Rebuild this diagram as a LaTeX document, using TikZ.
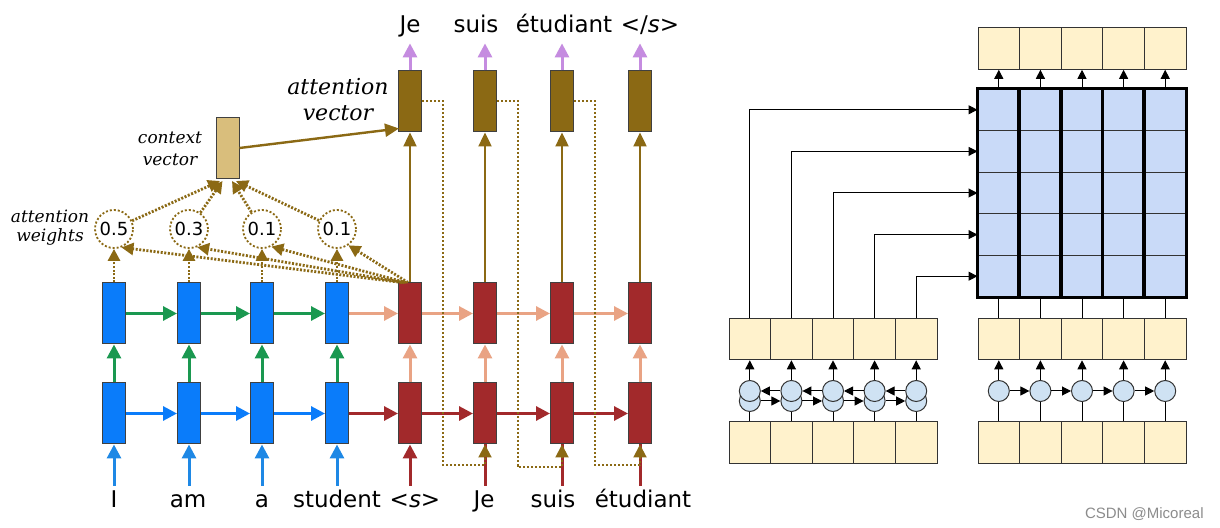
\documentclass[tikz,border=0pt]{standalone}
\usepackage{fontspec}
\setmainfont{DejaVu Sans}
\newfontfamily\labelfont{DejaVu Serif}
\newfontfamily\markfont{Liberation Sans}
\usepackage{tikz}
\usetikzlibrary{arrows.meta}
\definecolor{encblue}{HTML}{0A7CFA}
\definecolor{inblue}{HTML}{1E88E5}
\definecolor{encgreen}{HTML}{1A9850}
\definecolor{decred}{HTML}{A2292B}
\definecolor{salmon}{HTML}{E9A384}
\definecolor{attbrown}{HTML}{8B6914}
\definecolor{ctxtan}{HTML}{D9BE7C}
\definecolor{outpurple}{HTML}{C58CE0}
\definecolor{cellyellow}{HTML}{FFF2CC}
\definecolor{gridblue}{HTML}{C9DAF8}
\definecolor{unitblue}{HTML}{CFE2F3}

\begin{document}
\begin{tikzpicture}[x=0.5pt,y=-0.5pt,
rnn/.style={draw=black!75,line width=0.5pt,minimum width=11.5pt,minimum height=30.5pt,inner sep=0},
enc/.style={rnn,fill=encblue},
dec/.style={rnn,fill=decred},
attv/.style={rnn,fill=attbrown},
ctxv/.style={rnn,fill=ctxtan},
weight/.style={circle,draw=attbrown,line width=0.9pt,dash pattern=on 1pt off 1pt,minimum size=19pt,inner sep=0,font=\fontsize{9}{10}\selectfont},
word/.style={anchor=base,text height=8pt,text depth=2pt,inner xsep=0,inner ysep=3pt,font=\fontsize{11.5}{13}\selectfont},
tag/.style={align=center,inner sep=0},
fat/.style={-{Triangle[length=7pt,width=7pt]},line width=1.5pt},
inarrow/.style={fat,draw=inblue},
bluearrow/.style={fat,draw=encblue},
greenarrow/.style={fat,draw=encgreen},
redarrow/.style={fat,draw=decred},
redline/.style={line width=1.5pt,draw=decred},
salarrow/.style={fat,draw=salmon},
outarrow/.style={fat,draw=outpurple},
brownarrow/.style={-{Triangle[length=7pt,width=6.5pt]},line width=1.2pt,draw=attbrown},
attarrow/.style={-{Triangle[length=6pt,width=6pt]},line width=1.4pt,draw=attbrown,dash pattern=on 1pt off 0.8pt},
fbarrow/.style={-{Triangle[length=6.5pt,width=6.5pt]},line width=1pt,draw=attbrown,dash pattern=on 1pt off 1pt},
cell/.style={draw=black!80,line width=0.5pt,fill=cellyellow,minimum size=20.8pt,inner sep=0},
gcell/.style={cell,fill=gridblue},
unit/.style={circle,draw=black!80,line width=0.5pt,fill=unitblue,minimum size=10.5pt,inner sep=0},
thin/.style={-{Triangle[length=4.5pt,width=4.5pt]},line width=0.5pt},
heavy/.style={line width=1.8pt,line cap=rect}]
\path[use as bounding box,fill=white] (0,0) rectangle (1220,528);

% seq2seq with attention
\node[enc] (e1b) at (114,413.5) {}; \node[enc] (e2b) at (189,413.5) {};
\node[enc] (e3b) at (262,413.5) {}; \node[enc] (e4b) at (337,413.5) {};
\node[enc] (e1t) at (114,313.5) {}; \node[enc] (e2t) at (189,313.5) {};
\node[enc] (e3t) at (262,313.5) {}; \node[enc] (e4t) at (337,313.5) {};
\node[dec] (d1b) at (410,413.5) {}; \node[dec] (d2b) at (485,413.5) {};
\node[dec] (d3b) at (562,413.5) {}; \node[dec] (d4b) at (640,413.5) {};
\node[dec] (d1t) at (410,313.5) {}; \node[dec] (d2t) at (485,313.5) {};
\node[dec] (d3t) at (562,313.5) {}; \node[dec] (d4t) at (640,313.5) {};
\node[attv] (a1) at (410,101.5) {}; \node[attv] (a2) at (485,101.5) {};
\node[attv] (a3) at (562,101.5) {}; \node[attv] (a4) at (640,101.5) {};
\node[ctxv] (ctx) at (227.5,148) {};
\node[weight] (w1) at (114,229) {0.5}; \node[weight] (w2) at (189,229) {0.3};
\node[weight] (w3) at (262,229) {0.1}; \node[weight] (w4) at (337,229) {0.1};

\node[word] (x1) at (114,508) {I}; \node[word] (x2) at (188,508) {am};
\node[word] (x3) at (262,508) {a}; \node[word] (x4) at (337,508) {student};
\node[word] (x5) at (415,508) {<\textit{s}>}; \node[word] (x6) at (484,508) {Je};
\node[word] (x7) at (553,508) {suis}; \node[word] (x8) at (643,508) {étudiant};
\node[word] (y1) at (410,33) {Je}; \node[word] (y2) at (476,33) {suis};
\node[word] (y3) at (564,33) {étudiant}; \node[word] (y4) at (650,33) {</\textit{s}>};

\node[tag,font=\labelfont\itshape\fontsize{11}{13}\selectfont] (attlbl) at (338,100) {attention\\vector};
\node[tag,font=\labelfont\itshape\fontsize{8.5}{11}\selectfont] (ctxlbl) at (170,149) {context\\vector};
\node[tag,font=\labelfont\itshape\fontsize{8.5}{9.5}\selectfont] (wlbl) at (50,228) {attention\\weights};

\draw[inarrow] (e1b.south |- x1.north) -- (e1b.south); \draw[inarrow] (e2b.south |- x2.north) -- (e2b.south);
\draw[inarrow] (e3b.south |- x3.north) -- (e3b.south); \draw[inarrow] (e4b.south |- x4.north) -- (e4b.south);
\draw[bluearrow] (e1b) -- (e2b); \draw[bluearrow] (e2b) -- (e3b); \draw[bluearrow] (e3b) -- (e4b);
\draw[greenarrow] (e1b) -- (e1t); \draw[greenarrow] (e2b) -- (e2t);
\draw[greenarrow] (e3b) -- (e3t); \draw[greenarrow] (e4b) -- (e4t);
\draw[greenarrow] (e1t) -- (e2t); \draw[greenarrow] (e2t) -- (e3t); \draw[greenarrow] (e3t) -- (e4t);
\draw[redarrow] (e4b) -- (d1b); \draw[redarrow] (d1b) -- (d2b); \draw[redarrow] (d2b) -- (d3b); \draw[redarrow] (d3b) -- (d4b);
\draw[salarrow] (e4t) -- (d1t); \draw[salarrow] (d1t) -- (d2t); \draw[salarrow] (d2t) -- (d3t); \draw[salarrow] (d3t) -- (d4t);
\draw[salarrow] (d1b) -- (d1t); \draw[salarrow] (d2b) -- (d2t); \draw[salarrow] (d3b) -- (d3t); \draw[salarrow] (d4b) -- (d4t);
\draw[redarrow] (d1b.south |- x5.north) -- (d1b.south); \draw[redline] (d2b.south |- x6.north) -- (d2b.south);
\draw[redline] (d3b.south |- x7.north) -- (d3b.south); \draw[redline] (d4b.south |- x8.north) -- (d4b.south);
\draw[brownarrow] (d1t) -- (a1); \draw[brownarrow] (d2t) -- (a2); \draw[brownarrow] (d3t) -- (a3); \draw[brownarrow] (d4t) -- (a4);
\draw[outarrow] (a1.north) -- (a1.north |- y1.south); \draw[outarrow] (a2.north) -- (a2.north |- y2.south);
\draw[outarrow] (a3.north) -- (a3.north |- y3.south); \draw[outarrow] (a4.north) -- (a4.north |- y4.south);
% attention
\draw[attarrow] (e1t) -- (w1); \draw[attarrow] (e2t) -- (w2); \draw[attarrow] (e3t) -- (w3); \draw[attarrow] (e4t) -- (w4);
\draw[attarrow] ([xshift=-4pt]d1t.north) -- (w1.-68); \draw[attarrow] ([xshift=-3pt]d1t.north) -- (w2.-66);
\draw[attarrow] ([xshift=-2pt]d1t.north) -- (w3.-62); \draw[attarrow] ([xshift=-1pt]d1t.north) -- (w4.-55);
\draw[attarrow] (w1) -- ([xshift=-3.75pt,yshift=-1pt]ctx.south); \draw[attarrow] (w2) -- ([xshift=-2.5pt,yshift=-1pt]ctx.south);
\draw[attarrow] (w3) -- ([xshift=2.25pt,yshift=-1pt]ctx.south); \draw[attarrow] (w4) -- ([xshift=4.25pt,yshift=-1pt]ctx.south);
\draw[brownarrow] (ctx.east) -- ([xshift=0.5pt,yshift=2pt]a1.south west);
% feedback of the outputs
\draw[fbarrow] (a1.east) -- ++(21,0) |- ([yshift=-10.5pt]d2b.south) -- (d2b.south);
\draw[fbarrow] (a2.east) -- ++(21,0) |- ([yshift=-11.5pt]d3b.south) -- (d3b.south);
\draw[fbarrow] (a3.east) -- ++(21,0) |- ([yshift=-10.5pt]d4b.south) -- (d4b.south);

% self-attention vs. bidirectional rnn
\foreach \i in {0,...,4} {
  \node[cell] (o\i) at ({998.8+\i*41.6},48.5) {};
  \node[cell] (lt\i) at ({749.8+\i*41.6},339) {};
  \node[cell] (lb\i) at ({749.8+\i*41.6},442.5) {};
  \node[cell] (rt\i) at ({998.8+\i*41.6},339) {};
  \node[cell] (rb\i) at ({998.8+\i*41.6},442.5) {};
  \node[unit] (lo\i) at ({749.8+\i*41.6},401) {};
  \node[unit] (up\i) at ({749.8+\i*41.6},391) {};
  \node[unit] (rc\i) at ({998.8+\i*41.6},391) {};
  \foreach \j in {0,...,4} \node[gcell] (g\i\j) at ({998.8+\j*41.6},{109.8+\i*41.6}) {};
}
\draw[heavy] (g00.north west) rectangle (g44.south east);
\foreach \j in {1,...,4} \draw[heavy] (g0\j.north west) -- (g4\j.south west);
\foreach \i in {0,...,4} {
  \draw (lb\i.north) -- (lo\i.south); \draw[thin] (up\i.north) -- (lt\i.south);
  \draw[thin] (lt\i.north) |- (g\i0.west);
  \draw (rb\i.north) -- (rc\i.south); \draw[thin] (rc\i.north) -- (rt\i.south);
  \draw (rt\i.north) -- (g4\i.south); \draw[thin] (g0\i.north) -- (o\i.south);
}
\foreach \i [evaluate=\i as \j using int(\i+1)] in {0,...,3} {
  \draw[thin] (up\j) -- (up\i); \draw[thin] (lo\i) -- (lo\j);
  \draw[thin] (rc\i) -- (rc\j);
}
\node[anchor=base east,inner sep=0,text=black!45,font=\markfont\fontsize{7.5}{9}\selectfont] (mark) at (1204,518) {CSDN @Micoreal};
\end{tikzpicture}
\end{document}
